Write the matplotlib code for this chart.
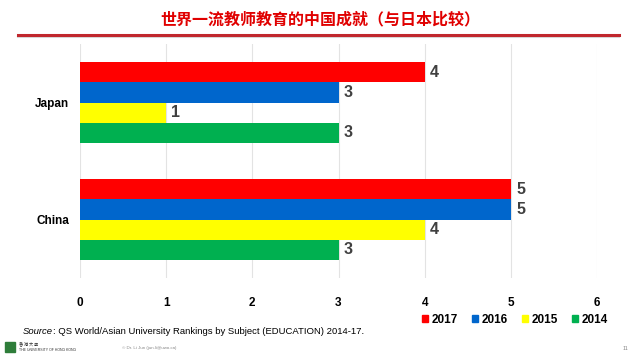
import matplotlib.pyplot as plt
import numpy as np
from matplotlib.lines import Line2D
from matplotlib.patches import Rectangle

# data
countries = ['China', 'Japan']
years = ['2017', '2016', '2015', '2014']
values = {
    '2017': [5, 4],
    '2016': [5, 3],
    '2015': [4, 1],
    '2014': [3, 3],
}
colors = ['#FF0000', '#0066CC', '#FFFF00', '#00B050']
x_ticks = [0, 1, 2, 3, 4, 5, 6]

title = '世界一流教师教育的中国成就（与日本比较）'
source = 'QS World/Asian University Rankings by Subject (EDUCATION) 2014-17.'

plt.rcParams['font.family'] = ['Liberation Sans', 'DejaVu Sans']

fig = plt.figure(figsize=(6.4, 3.6), dpi=100)
ax = fig.add_axes([80 / 640, 1 - 278 / 360, 517 / 640, 234 / 360])

h = 0.171
y = np.arange(len(countries))
offsets = [1.5 * h, 0.5 * h, -0.5 * h, -1.5 * h]
for yr, c, off in zip(years, colors, offsets):
    bars = ax.barh(y + off, values[yr], height=h, color=c, zorder=3)
    for b, v in zip(bars, values[yr]):
        ax.text(b.get_width() + 0.06, b.get_y() + h / 2, str(v), va='center', ha='left',
                fontsize=11.5, fontweight='bold', color='#404040')

ax.set_xlim(0, 6)
ax.set_ylim(-0.5, 1.5)
ax.set_xticks(x_ticks)
ax.set_yticks(y)
ax.set_yticklabels(countries)
ax.tick_params(length=0, labelsize=8.5, pad=8)
ax.tick_params(axis='x', pad=14)
for lab in ax.get_xticklabels() + ax.get_yticklabels():
    lab.set_fontweight('bold')
ax.grid(axis='x', color='#E3E3E3', linewidth=0.8, zorder=0)
for s in ax.spines.values():
    s.set_visible(False)

# legend
handles = [Rectangle((0, 0), 1, 1, color=c) for c in colors]
fig.legend(handles, years, loc='center', bbox_to_anchor=(515 / 640, 1 - 320 / 360), ncol=4,
           frameon=False, prop={'weight': 'bold', 'size': 8.5}, handlelength=0.5, handleheight=0.5,
           handletextpad=0.3, columnspacing=1.2)

# title and red rule
fig.text(0.5, 1 - 19 / 360, title, ha='center', va='center', fontsize=11.5, fontweight='bold',
         color='#E00000', family=['Noto Sans CJK SC', 'DejaVu Sans'])
fig.add_artist(Line2D([18 / 640, 619 / 640], [1 - 37 / 360] * 2, color='#DADADA', linewidth=1.5))
fig.add_artist(Line2D([18 / 640, 619 / 640], [1 - 35 / 360] * 2, color='#C0272D', linewidth=2.2))

# source line: italic "Source" followed by the plain text
src = fig.text(23 / 640, 1 - 334 / 360, 'Source', style='italic', fontsize=6.8, va='baseline')
ax.annotate(': ' + source, xy=(1, 0), xycoords=src, xytext=(0, 0), textcoords='offset points',
            fontsize=6.8, va='bottom', ha='left', annotation_clip=False)

# footer
fig.add_artist(Rectangle((5 / 640, 1 - 352 / 360), 10 / 640, 10 / 360, color='#2E7D3A'))
fig.text(19 / 640, 1 - 344 / 360, '香 港 大 學', fontsize=3, va='center',
         family=['Noto Sans CJK TC', 'DejaVu Sans'], color='#333333')
fig.text(19 / 640, 1 - 350 / 360, 'THE UNIVERSITY OF HONG KONG', fontsize=2.5, va='center',
         color='#333333')
fig.text(122 / 640, 1 - 348 / 360, '© Dr. Li Jun (jun.li@uwo.ca)', fontsize=3.2, va='center',
         color='#888888')
fig.text(626 / 640, 1 - 349 / 360, '11', fontsize=4, va='center', ha='center', color='#888888')

fig.savefig('out.png', dpi=100)
